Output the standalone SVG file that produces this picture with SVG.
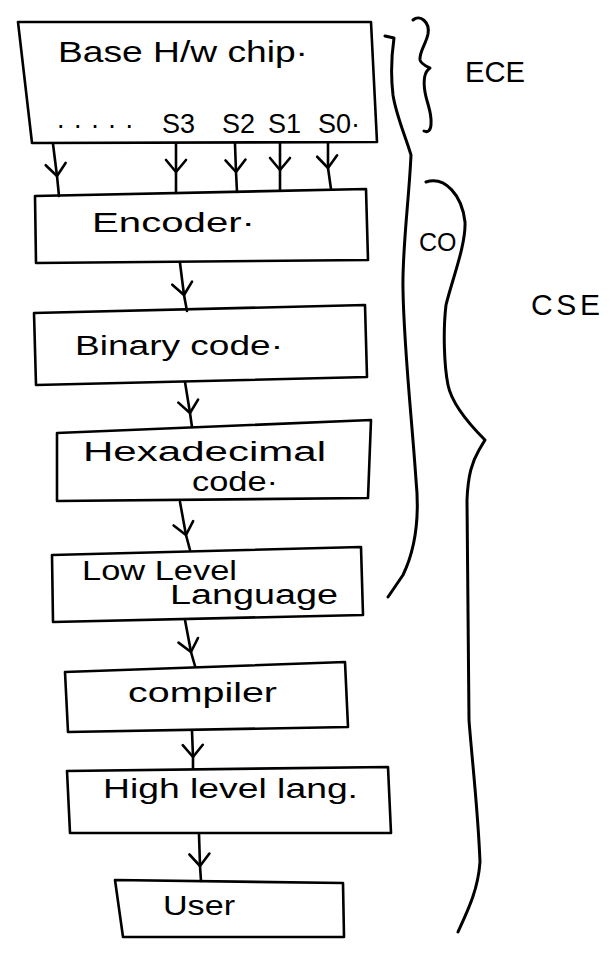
<svg xmlns="http://www.w3.org/2000/svg" width="613" height="955" viewBox="0 0 613 955">
<style>
.box{fill:none;stroke:#000;stroke-width:2.6;stroke-linejoin:round}
.lbl{font-family:"Liberation Sans",Arial,sans-serif;font-size:27px;fill:#000}
.side{font-family:"Liberation Sans",Arial,sans-serif;font-size:30px;fill:#000}
.conn{fill:none;stroke:#000;stroke-width:2.6;stroke-linecap:round;marker-mid:url(#chev)}
.brace{fill:none;stroke:#000;stroke-width:3;stroke-linecap:round;stroke-linejoin:round}
</style>
<defs>
<marker id="chev" viewBox="-14 -13 17 26" refX="0" refY="0" markerWidth="17" markerHeight="26" markerUnits="userSpaceOnUse" orient="auto">
<path d="M-12,-10 L0,0 L-12,10" fill="none" stroke="#000" stroke-width="2.6" stroke-linecap="round" stroke-linejoin="round"/>
</marker>
</defs>
<rect width="613" height="955" fill="#fff"/>

<g id="base-hw-chip">
<polygon class="box" points="18,22 371,22 377,142 32,143"/>
<text class="lbl" x="58" y="62" style="font-size:29px" textLength="250" lengthAdjust="spacingAndGlyphs">Base H/w chip·</text>
<text class="lbl" x="57" y="128" textLength="76" lengthAdjust="spacing">.....</text>
<text class="lbl" x="162" y="133">S3</text>
<text class="lbl" x="222" y="133">S2</text>
<text class="lbl" x="268" y="133">S1</text>
<text class="lbl" x="318" y="133">S0·</text>
</g>

<g id="encoder">
<polygon class="box" points="35,196 366,189 368,260 36,263"/>
<text class="lbl" x="92" y="232" textLength="163" lengthAdjust="spacingAndGlyphs">Encoder·</text>
</g>

<g id="binary-code">
<polygon class="box" points="34,313 365,305 367,377 36,385"/>
<text class="lbl" x="75" y="355" textLength="208" lengthAdjust="spacingAndGlyphs">Binary code·</text>
</g>

<g id="hexadecimal-code">
<polygon class="box" points="57,433 371,420 368,498 57,501"/>
<text class="lbl" x="83" y="461" textLength="243" lengthAdjust="spacingAndGlyphs">Hexadecimal</text>
<text class="lbl" x="192" y="491" textLength="86" lengthAdjust="spacingAndGlyphs">code·</text>
</g>

<g id="low-level-language">
<polygon class="box" points="52,555 361,547 363,615 53,622"/>
<text class="lbl" x="82" y="580" textLength="155" lengthAdjust="spacingAndGlyphs">Low Level</text>
<text class="lbl" x="170" y="604" textLength="168" lengthAdjust="spacingAndGlyphs">Language</text>
</g>

<g id="compiler">
<polygon class="box" points="65,672 345,662 348,727 68,732"/>
<text class="lbl" x="128" y="702" textLength="149" lengthAdjust="spacingAndGlyphs">compiler</text>
</g>

<g id="high-level-lang">
<polygon class="box" points="67,771 388,767 391,833 70,833"/>
<text class="lbl" x="103" y="798" textLength="255" lengthAdjust="spacingAndGlyphs">High level lang.</text>
</g>

<g id="user">
<polygon class="box" points="115,880 343,883 344,937 123,937"/>
<text class="lbl" x="163" y="915" textLength="72" lengthAdjust="spacingAndGlyphs">User</text>
</g>

<g id="connectors">
<path class="conn" d="M53,144 L57,176 L59,196"/>
<path class="conn" d="M176,144 L176,172 L176,193"/>
<path class="conn" d="M235,144 L236,172 L237,192"/>
<path class="conn" d="M280,143 L280,170 L280,190"/>
<path class="conn" d="M328,143 L328,168 L331,189"/>
<path class="conn" d="M180,263 L184,295 L187,311"/>
<path class="conn" d="M185,382 L190,413 L192,427"/>
<path class="conn" d="M180,502 L186,535 L190,550"/>
<path class="conn" d="M185,620 L191,652 L195,666"/>
<path class="conn" d="M192,731 L193,757 L193,768"/>
<path class="conn" d="M199,834 L200,866 L201,881"/>
</g>

<g id="ece-brace">
<path class="brace" d="M413,20 C420,14 430,22 428,34 C426,44 419,52 420,60 C421,64 426,66 430,68 C424,72 423,80 425,92 C427,104 432,112 431,124 C431,130 428,133 424,131"/>
<text class="side" x="465" y="82" textLength="60" lengthAdjust="spacingAndGlyphs">ECE</text>
</g>

<g id="co-bracket">
<path class="brace" d="M385,36 L394,38 C393,45 390,70 393,95 C396,115 405,135 411,155 C409,200 402,250 403,290 C404,350 412,420 416,480 C420,520 415,550 403,575 L388,597"/>
<text class="lbl" x="419" y="251" style="font-size:25px">CO</text>
</g>

<g id="cse-brace">
<path class="brace" d="M426,182 C445,176 462,195 465,222 C466,245 452,280 446,305 C443,330 444,365 448,385 C452,405 470,425 485,440 L479,450 C472,462 468,475 467,500 L469,720 C472,760 478,810 480,862 C478,890 468,910 458,932"/>
<text class="side" x="531" y="315" textLength="69" lengthAdjust="spacing">CSE</text>
</g>
</svg>
